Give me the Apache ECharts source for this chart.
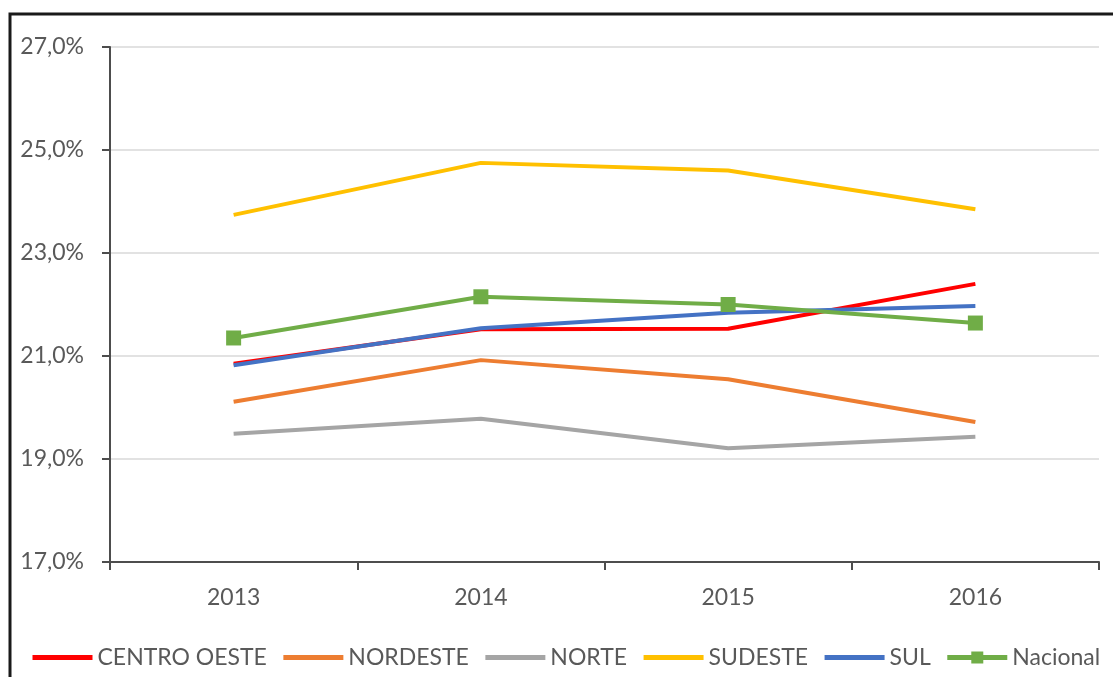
<!DOCTYPE html>
<html>
<head>
<meta charset="utf-8">
<script src="https://cdn.jsdelivr.net/npm/echarts@6/dist/echarts.min.js"></script>
<style>
html,body{margin:0;padding:0;background:#fff;}
#chart{width:1113px;height:677px;}
</style>
</head>
<body>
<div id="chart"></div>
<script>
const years = ['2013', '2014', '2015', '2016'];
const centroOeste = [20.85, 21.52, 21.53, 22.40];
const nordeste = [20.11, 20.92, 20.55, 19.72];
const norte = [19.49, 19.78, 19.21, 19.43];
const sudeste = [23.74, 24.75, 24.60, 23.85];
const sul = [20.82, 21.54, 21.84, 21.97];
const nacional = [21.35, 22.15, 22.00, 21.64];
const seriesNames = ['CENTRO OESTE', 'NORDESTE', 'NORTE', 'SUDESTE', 'SUL', 'Nacional'];
const seriesColors = ['#FF0000', '#ED7D31', '#A5A5A5', '#FFC000', '#4472C4', '#70AD47'];
const seriesData = [centroOeste, nordeste, norte, sudeste, sul, nacional];

const FONT = 'Lato';
const TXT = '#595959';

const chart = echarts.init(document.getElementById('chart'));
const series = seriesNames.map((name, i) => {
  const isNat = name === 'Nacional';
  return {
    name: name,
    type: 'line',
    data: seriesData[i],
    symbol: isNat ? 'rect' : 'none',
    symbolSize: 15,
    showSymbol: isNat,
    lineStyle: { color: seriesColors[i], width: 4 },
    itemStyle: { color: seriesColors[i] },
    emphasis: { disabled: true },
    animation: false
  };
});

const legendData = seriesNames.map(name => (
  name === 'Nacional'
    ? { name: name }
    : { name: name, itemStyle: { opacity: 0 } }
));

chart.setOption({
  backgroundColor: '#fff',
  animation: false,
  textStyle: { fontFamily: FONT },
  graphic: [{
    type: 'rect',
    shape: { x: 10, y: 14, width: 1200, height: 800 },
    style: { fill: 'none', stroke: '#1a1a1a', lineWidth: 3 },
    z: 100
  }],
  grid: { left: 110, right: 14, top: 47, bottom: 115 },
  legend: {
    data: legendData,
    left: 25,
    top: 641,
    itemWidth: 60,
    itemHeight: 15,
    itemGap: 14,
    lineStyle: { width: 5 },
    textStyle: { fontFamily: FONT, fontSize: 23, color: TXT }
  },
  xAxis: {
    type: 'category',
    data: years,
    boundaryGap: true,
    axisLine: { lineStyle: { color: '#4d4d4d', width: 2 } },
    axisTick: { show: true, length: 8, lineStyle: { color: '#4d4d4d', width: 2 } },
    axisLabel: { fontFamily: FONT, fontSize: 23, color: TXT, margin: 24 },
    splitLine: { show: false }
  },
  yAxis: {
    type: 'value',
    min: 17,
    max: 27,
    interval: 2,
    axisLine: { show: true, lineStyle: { color: '#4d4d4d', width: 2 } },
    axisTick: { show: true, length: 8, lineStyle: { color: '#4d4d4d', width: 2 } },
    axisLabel: {
      fontFamily: FONT, fontSize: 23, color: TXT, margin: 26,
      formatter: v => v.toFixed(1).replace('.', ',') + '%'
    },
    splitLine: { show: true, lineStyle: { color: '#d9d9d9', width: 1.5 } }
  },
  series: series
});
</script>
</body>
</html>
